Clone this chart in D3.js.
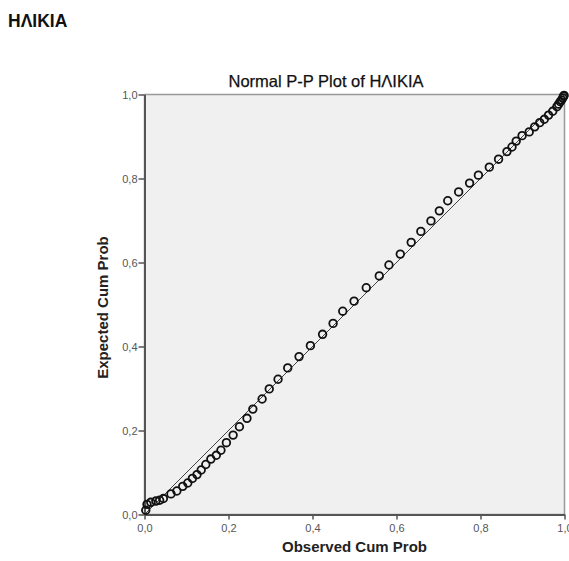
<!DOCTYPE html>
<html>
<head>
<meta charset="utf-8">
<script src="https://cdn.jsdelivr.net/npm/d3@7"></script>
<style>
  body { margin: 0; background: #fff; }
  svg { display: block; }
</style>
</head>
<body>
<svg id="chart" width="569" height="561"></svg>
<script>
// ---- data ----
const headerText = "ΗΛΙΚΙΑ";
const chartTitle = "Normal P-P Plot of ΗΛΙΚΙΑ";
const xTitle = "Observed Cum Prob";
const yTitle = "Expected Cum Prob";
const tickValues = [0, 0.2, 0.4, 0.6, 0.8, 1.0];
const tickLabels = ["0,0", "0,2", "0,4", "0,6", "0,8", "1,0"];
const refLine = [[0, 0], [1, 1]];
const observed = [
  0.003, 0.006, 0.015, 0.027, 0.036, 0.045, 0.063, 0.077, 0.091, 0.103, 0.114,
  0.125, 0.135, 0.146, 0.158, 0.171, 0.182, 0.195, 0.211, 0.226, 0.244, 0.258,
  0.280, 0.297, 0.318, 0.341, 0.368, 0.395, 0.424, 0.449, 0.472, 0.499,
  0.528, 0.559, 0.582, 0.609, 0.635, 0.658, 0.682, 0.702, 0.722,
  0.748, 0.774, 0.795, 0.821, 0.843, 0.863, 0.875, 0.885, 0.899, 0.916,
  0.929, 0.941, 0.952, 0.962, 0.972, 0.982, 0.986, 0.990, 0.993, 0.996, 0.998, 0.999
];
const expected = [
  0.010, 0.024, 0.029, 0.032, 0.034, 0.038, 0.049, 0.056, 0.067, 0.075, 0.086,
  0.095, 0.106, 0.119, 0.132, 0.141, 0.153, 0.171, 0.189, 0.209, 0.229, 0.251,
  0.275, 0.299, 0.322, 0.349, 0.376, 0.402, 0.429, 0.455, 0.484, 0.508,
  0.540, 0.568, 0.594, 0.620, 0.648, 0.674, 0.699, 0.723, 0.747,
  0.768, 0.789, 0.808, 0.827, 0.846, 0.864, 0.875, 0.889, 0.902, 0.911,
  0.923, 0.933, 0.941, 0.951, 0.960, 0.971, 0.977, 0.983, 0.987, 0.992, 0.996, 0.998
];

// ---- layout ----
const svg = d3.select("#chart");
const pLeft = 144.5, pRight = 564.5, pTop = 94.5, pBottom = 514.5;
const font = "Liberation Sans, Arial, sans-serif";

const x = d3.scaleLinear().domain([0, 1]).range([pLeft, pRight]);
const y = d3.scaleLinear().domain([0, 1]).range([pBottom, pTop]);

// header
svg.append("text")
  .attr("x", 8).attr("y", 27)
  .attr("font-family", font)
  .attr("font-weight", "bold").attr("font-size", 17.5)
  .attr("fill", "#111")
  .text(headerText);

// plot background
svg.append("rect")
  .attr("x", pLeft).attr("y", pTop)
  .attr("width", pRight - pLeft).attr("height", pBottom - pTop)
  .attr("fill", "#f0f0f0")
  .attr("stroke", "#999").attr("stroke-width", 1.5);

// title
svg.append("text")
  .attr("x", 326).attr("y", 87)
  .attr("text-anchor", "middle")
  .attr("font-family", font)
  .attr("font-size", 16.5).attr("fill", "#111")
  .attr("stroke", "#111").attr("stroke-width", 0.25)
  .text(chartTitle);

// axes
const xAxis = d3.axisBottom(x).tickValues(tickValues)
  .tickFormat((d, i) => tickLabels[i]).tickSize(5).tickSizeOuter(0);
const yAxis = d3.axisLeft(y).tickValues(tickValues)
  .tickFormat((d, i) => tickLabels[i]).tickSize(6).tickSizeOuter(0);

const gx = svg.append("g").attr("transform", `translate(0,${pBottom})`).call(xAxis);
const gy = svg.append("g").attr("transform", `translate(${pLeft},0)`).call(yAxis);

[gx, gy].forEach(g => {
  g.select(".domain").attr("stroke", "#555").attr("stroke-width", 2);
  g.selectAll(".tick line").attr("stroke", "#555").attr("stroke-width", 1.5);
  g.selectAll(".tick text")
    .attr("font-family", font)
    .attr("font-size", 11).attr("fill", "#555");
});
gx.selectAll(".tick text").attr("dy", "0.9em");
gy.selectAll(".tick text").attr("x", -7);

// reference line
svg.append("line")
  .attr("x1", x(refLine[0][0])).attr("y1", y(refLine[0][1]))
  .attr("x2", x(refLine[1][0])).attr("y2", y(refLine[1][1]))
  .attr("stroke", "#444").attr("stroke-width", 1);

// points
svg.append("g").selectAll("circle")
  .data(observed.map((o, i) => [o, expected[i]]))
  .join("circle")
  .attr("cx", d => x(d[0])).attr("cy", d => y(d[1]))
  .attr("r", 3.8)
  .attr("fill", "none")
  .attr("stroke", "#111").attr("stroke-width", 1.8);

// axis titles
svg.append("text")
  .attr("x", (pLeft + pRight) / 2).attr("y", 552)
  .attr("text-anchor", "middle")
  .attr("font-family", font)
  .attr("font-weight", "bold").attr("font-size", 15).attr("fill", "#222")
  .text(xTitle);

svg.append("text")
  .attr("transform", `translate(108,${(pTop + pBottom) / 2 + 3}) rotate(-90)`)
  .attr("text-anchor", "middle")
  .attr("font-family", font)
  .attr("font-weight", "bold").attr("font-size", 15).attr("fill", "#222")
  .text(yTitle);
</script>
</body>
</html>
